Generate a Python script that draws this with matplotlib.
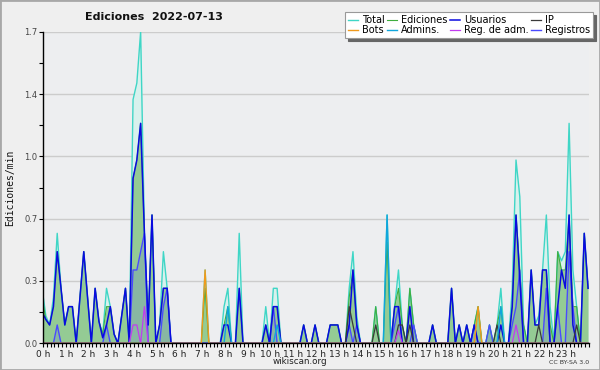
import numpy as np
import matplotlib
matplotlib.use("Agg")
import matplotlib.pyplot as plt
from matplotlib.patches import Rectangle

# 10-minute bins, edits per minute. The first value is the last bin of the
# previous day (it sits just left of 0 h and gets clipped).
total = [0.3, 0.15, 0.1, 0.25, 0.6, 0.3, 0.1, 0.2, 0.2, 0, 0.25, 0.5,
         0.25, 0, 0.3, 0.12, 0.05, 0.3, 0.2, 0.05, 0, 0.15, 0.3, 0,
         1.33, 1.42, 1.7, 0.6, 0.1, 0.7, 0, 0.1, 0.5, 0.3, 0, 0,
         0, 0, 0, 0, 0, 0, 0, 0.4, 0, 0, 0, 0,
         0.2, 0.3, 0, 0, 0.6, 0, 0, 0, 0, 0, 0, 0.2,
         0, 0.3, 0.3, 0, 0, 0, 0, 0, 0, 0.1, 0, 0,
         0.1, 0, 0, 0, 0.1, 0.1, 0.1, 0, 0, 0.3, 0.5, 0.15,
         0, 0, 0, 0, 0.2, 0, 0, 0.7, 0, 0.2, 0.4, 0.1,
         0, 0.3, 0.1, 0, 0, 0, 0, 0.1, 0, 0, 0, 0,
         0.3, 0, 0.1, 0, 0.1, 0, 0.1, 0.2, 0, 0, 0.1, 0,
         0.1, 0.3, 0, 0, 0.3, 1.0, 0.8, 0.1, 0, 0.4, 0.1, 0.15,
         0.4, 0.7, 0.2, 0, 0.5, 0.45, 0.5, 1.2, 0.4, 0.2, 0, 0.6,
         0.3]
ediciones = [0.25, 0.13, 0.1, 0.2, 0.5, 0.3, 0.1, 0.2, 0.2, 0, 0.25, 0.5,
             0.25, 0, 0.3, 0.12, 0.05, 0.2, 0.2, 0.05, 0, 0.15, 0.3, 0,
             0.9, 1.0, 1.2, 0.6, 0.1, 0.7, 0, 0.1, 0.3, 0.3, 0, 0,
             0, 0, 0, 0, 0, 0, 0, 0.3, 0, 0, 0, 0,
             0.1, 0.2, 0, 0, 0.3, 0, 0, 0, 0, 0, 0, 0.1,
             0, 0.2, 0.2, 0, 0, 0, 0, 0, 0, 0.1, 0, 0,
             0.1, 0, 0, 0, 0.1, 0.1, 0.1, 0, 0, 0.25, 0.4, 0.1,
             0, 0, 0, 0, 0.2, 0, 0, 0.55, 0, 0.2, 0.3, 0.1,
             0, 0.3, 0.1, 0, 0, 0, 0, 0.1, 0, 0, 0, 0,
             0.3, 0, 0.1, 0, 0.1, 0, 0.1, 0.2, 0, 0, 0.1, 0,
             0.1, 0.2, 0, 0, 0.2, 0.7, 0.4, 0.1, 0, 0.4, 0.1, 0.1,
             0.4, 0.4, 0.1, 0, 0.5, 0.4, 0.4, 0.7, 0.2, 0.2, 0, 0.6,
             0.3]
usuarios = [0.17, 0.13, 0.1, 0.2, 0.5, 0.3, 0.1, 0.2, 0.2, 0, 0.25, 0.5,
            0.25, 0, 0.3, 0.12, 0.03, 0.1, 0.2, 0.05, 0, 0.15, 0.3, 0,
            0.9, 1.0, 1.2, 0.6, 0.1, 0.7, 0, 0.1, 0.3, 0.3, 0, 0,
            0, 0, 0, 0, 0, 0, 0, 0, 0, 0, 0, 0,
            0.1, 0.1, 0, 0, 0.3, 0, 0, 0, 0, 0, 0, 0.1,
            0, 0.2, 0.2, 0, 0, 0, 0, 0, 0, 0.1, 0, 0,
            0.1, 0, 0, 0, 0.1, 0.1, 0.1, 0, 0, 0.1, 0.4, 0.1,
            0, 0, 0, 0, 0, 0, 0, 0, 0, 0.2, 0.2, 0,
            0, 0.2, 0, 0, 0, 0, 0, 0.1, 0, 0, 0, 0,
            0.3, 0, 0.1, 0, 0.1, 0, 0.1, 0, 0, 0, 0, 0,
            0, 0.1, 0, 0, 0.2, 0.7, 0.35, 0, 0, 0.4, 0.1, 0.1,
            0.4, 0.4, 0, 0, 0.2, 0.4, 0.3, 0.7, 0.1, 0, 0, 0.6,
            0.3]
ip = [0] * 81 + [0.2, 0.1, 0, 0, 0, 0, 0, 0.1, 0, 0, 0, 0, 0, 0.1, 0.1,
                 0, 0.1] + [0] * 22 + [0.1] + [0] * 10 + [0.1] + [0] * 9 + [0.1, 0, 0, 0]
bots = [0] * 43 + [0.4] + [0] * 71 + [0.2] + [0] * 29
admins = [0] * 49 + [0.2] + [0] * 12 + [0.1] + [0] * 28 + [0.7] + [0] * 29 + [0.2] + [0] * 23
reg_adm = [0] * 24 + [0.1, 0.1, 0, 0.2] + [0] * 66 + [0.07] + [0] * 30 + [0.1] + [0] * 19
registros = [0, 0, 0, 0, 0.1, 0, 0, 0, 0, 0, 0, 0,
             0, 0, 0, 0, 0, 0.1, 0, 0, 0, 0, 0, 0,
             0.4, 0.4, 0.5, 0.6, 0, 0, 0, 0, 0.2, 0.3, 0, 0,
             0, 0, 0, 0, 0, 0, 0, 0, 0, 0, 0, 0,
             0, 0, 0, 0, 0, 0, 0, 0, 0, 0, 0, 0,
             0, 0.2, 0, 0, 0, 0, 0, 0, 0, 0, 0, 0,
             0, 0, 0, 0, 0, 0, 0, 0, 0, 0.1, 0, 0.1,
             0, 0, 0, 0, 0, 0, 0, 0, 0, 0.1, 0.2, 0,
             0, 0, 0.1, 0, 0, 0, 0, 0, 0, 0, 0, 0,
             0, 0, 0, 0, 0, 0, 0.1, 0, 0, 0, 0.1, 0,
             0, 0, 0, 0, 0.1, 0.2, 0.4, 0, 0, 0, 0, 0,
             0, 0.3, 0, 0, 0.2, 0, 0, 0.5, 0.2, 0, 0, 0,
             0]

hours = [f"{h} h" for h in range(24)]
ymax = 1.7

x = np.arange(len(total)) - 0.25

fig = plt.figure(figsize=(6, 3.7), dpi=100, facecolor="#efefef")
ax = fig.add_axes([43 / 600, 1 - 343.3 / 370, 546 / 600, 311.6 / 370])
ax.set_facecolor("#edeef0")

# fills
ax.fill_between(x, 0, total, color="#d8f1ed", lw=0, zorder=1)
ax.fill_between(x, 0, ediciones, color="#94cb94", lw=0, zorder=2)
ax.fill_between(x, 0, registros, color="#4848ff", alpha=0.15, lw=0, zorder=3)

# lines
ax.plot(x, total, color="#3fd6c6", lw=1.0, zorder=4, label="Total")
ax.plot(x, ediciones, color="#3fae3f", lw=0.8, zorder=5, label="Ediciones")
ax.plot(x, registros, color="#4a4aff", lw=1.0, zorder=6, label="Registros")
ax.plot(x, usuarios, color="#0a0ae0", lw=1.1, zorder=7, label="Usuarios")
ax.plot(x, ip, color="#3a3a3a", lw=0.9, zorder=8, label="IP")
ax.plot(x, admins, color="#10a6dc", lw=1.0, zorder=9, label="Admins.")
ax.plot(x, reg_adm, color="#c23cf0", lw=0.9, zorder=10, label="Reg. de adm.")
ax.plot(x, bots, color="#f09a1c", lw=1.0, zorder=11, label="Bots")

ax.set_xlim(0, 144)
ax.set_ylim(0, ymax)

yt = np.linspace(0, ymax, 6)
ax.set_yticks(yt)
ax.set_yticklabels([f"{v:.1f}" for v in yt])
ax.set_yticks(np.linspace(0, ymax, 11), minor=True)
ax.set_xticks(np.arange(0, 144, 6))
ax.set_xticklabels(hours)
ax.set_xticks(np.arange(0, 145, 1), minor=True)

ax.grid(axis="y", color="#cccccc", lw=1.0, zorder=0)
ax.set_axisbelow(True)
for s in ["top", "right"]:
    ax.spines[s].set_visible(False)
for s in ["left", "bottom"]:
    ax.spines[s].set_linewidth(1.0)
    ax.spines[s].set_zorder(12)

ax.tick_params(axis="both", which="both", direction="out", length=3, width=0.8,
               colors="black", labelcolor="#444444", labelsize=6)
ax.tick_params(axis="x", pad=1.5, labelcolor="#222222", labelsize=6.5)
ax.tick_params(axis="y", pad=1)

fig.text(154 / 600, 1 - 17 / 370, "Ediciones  2022-07-13", ha="center", va="center",
         fontsize=8, fontweight="bold", color="#111111")
fig.text(10 / 600, 1 - 188 / 370, "Ediciones/min", rotation=90, ha="center", va="center",
         fontsize=7, family="DejaVu Sans Mono", color="#111111")
fig.text(0.5, 1 - 362 / 370, "wikiscan.org", ha="center", va="center",
         fontsize=6.3, color="#222222")
fig.text(589 / 600, 1 - 362.5 / 370, "CC BY-SA 3.0", ha="right", va="center",
         fontsize=4.5, color="#333333")

handles, labels = ax.get_legend_handles_labels()
order = ["Total", "Bots", "Ediciones", "Admins.", "Usuarios", "Reg. de adm.", "IP", "Registros"]
hmap = dict(zip(labels, handles))
leg = fig.legend([hmap[k] for k in order], order, ncol=4, loc="upper right",
                 bbox_to_anchor=(593 / 600, 1 - 12 / 370), fontsize=7,
                 frameon=True, fancybox=False, shadow={"color": "#666666", "alpha": 1},
                 handlelength=1.0, handletextpad=0.4, columnspacing=0.3,
                 labelspacing=0.05, borderpad=0.3, borderaxespad=0)
leg.get_frame().set_edgecolor("#999999")
leg.get_frame().set_linewidth(0.8)

fig.patches.append(Rectangle((0, 0), 1, 1, transform=fig.transFigure, fill=False,
                             edgecolor="#a8a8a8", lw=2.0))

fig.savefig("out.png", dpi=100, facecolor=fig.get_facecolor())
